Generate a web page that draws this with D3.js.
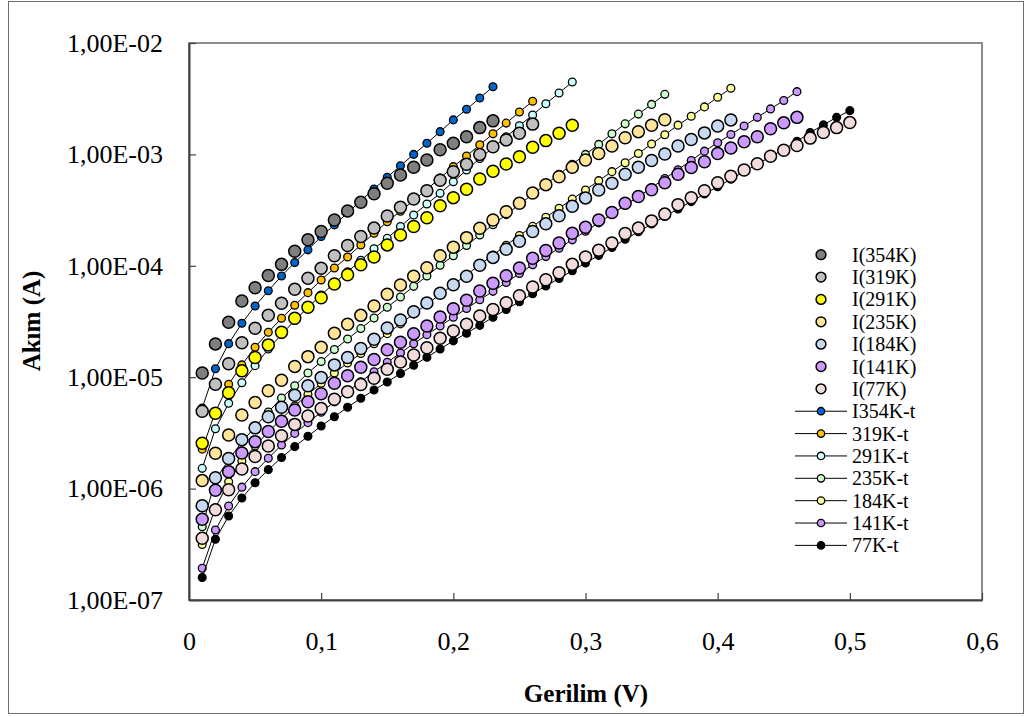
<!DOCTYPE html>
<html><head><meta charset="utf-8">
<script src="https://cdn.jsdelivr.net/npm/d3@7"></script>
<style>body{margin:0;background:#fff}svg{display:block}</style>
</head><body><svg id="chart" width="1027" height="717"></svg>
<script>
// ---- data ----
const voltage = [0.01,0.02,0.03,0.04,0.05,0.06,0.07,0.08,0.09,0.10,0.11,0.12,0.13,0.14,0.15,0.16,0.17,0.18,0.19,0.20,0.21,0.22,0.23,0.24,0.25,0.26,0.27,0.28,0.29,0.30,0.31,0.32,0.33,0.34,0.35,0.36,0.37,0.38,0.39,0.40,0.41,0.42,0.43,0.44,0.45,0.46,0.47,0.48,0.49,0.50];

const I354 = [1.09e-5,1.99e-5,3.11e-5,4.83e-5,6.36e-5,8.18e-5,1.03e-4,1.35e-4,1.71e-4,2.03e-4,2.58e-4,3.11e-4,3.72e-4,4.44e-4,5.51e-4,6.53e-4,7.66e-4,8.91e-4,1.10e-3,1.26e-3,1.44e-3,1.74e-3,2.00e-3];
const I319 = [4.94e-6,8.64e-6,1.32e-5,2.04e-5,2.75e-5,3.60e-5,4.61e-5,6.15e-5,7.73e-5,9.50e-5,1.23e-4,1.52e-4,1.83e-4,2.18e-4,2.80e-4,3.35e-4,3.98e-4,4.72e-4,5.86e-4,7.00e-4,8.15e-4,1.00e-3,1.17e-3,1.35e-3,1.55e-3,1.87e-3];
const I291 = [2.55e-6,4.74e-6,7.26e-6,1.14e-5,1.50e-5,1.95e-5,2.53e-5,3.38e-5,4.24e-5,5.17e-5,6.87e-5,8.32e-5,1.02e-4,1.20e-4,1.54e-4,1.89e-4,2.25e-4,2.70e-4,3.46e-4,4.09e-4,4.86e-4,6.01e-4,7.05e-4,8.20e-4,9.54e-4,1.16e-3,1.33e-3,1.55e-3,1.83e-3];
const I235 = [1.18e-6,2.08e-6,3.03e-6,4.58e-6,5.93e-6,7.57e-6,9.38e-6,1.25e-5,1.53e-5,1.86e-5,2.48e-5,2.99e-5,3.59e-5,4.36e-5,5.55e-5,6.73e-5,8.05e-5,9.62e-5,1.23e-4,1.47e-4,1.79e-4,2.17e-4,2.58e-4,3.06e-4,3.64e-4,4.50e-4,5.35e-4,6.31e-4,7.66e-4,8.91e-4,1.02e-3,1.19e-3,1.41e-3,1.60e-3,1.83e-3,2.05e-3];
const I184 = [7.02e-7,1.25e-6,1.86e-6,2.75e-6,3.51e-6,4.42e-6,5.38e-6,6.88e-6,8.37e-6,9.94e-6,1.29e-5,1.50e-5,1.81e-5,2.19e-5,2.77e-5,3.26e-5,3.87e-5,4.63e-5,5.66e-5,6.77e-5,8.05e-5,1.01e-4,1.19e-4,1.41e-4,1.66e-4,2.03e-4,2.38e-4,2.81e-4,3.43e-4,4.07e-4,4.79e-4,5.51e-4,6.64e-4,7.66e-4,8.82e-4,1.01e-3,1.19e-3,1.36e-3,1.56e-3,1.80e-3,2.04e-3];
const I141 = [5.31e-7,9.67e-7,1.42e-6,2.09e-6,2.64e-6,3.25e-6,4.02e-6,5.08e-6,6.03e-6,7.11e-6,8.82e-6,1.03e-5,1.23e-5,1.44e-5,1.76e-5,2.06e-5,2.46e-5,2.88e-5,3.47e-5,4.12e-5,4.90e-5,5.94e-5,6.97e-5,8.15e-5,9.56e-5,1.17e-4,1.37e-4,1.60e-4,1.96e-4,2.22e-4,2.58e-4,3.01e-4,3.64e-4,4.19e-4,4.82e-4,5.57e-4,6.64e-4,7.63e-4,8.60e-4,1.02e-3,1.14e-3,1.30e-3,1.44e-3,1.70e-3,1.92e-3,2.15e-3];
const I77 = [3.58e-7,6.47e-7,9.78e-7,1.50e-6,1.94e-6,2.41e-6,2.98e-6,3.77e-6,4.49e-6,5.24e-6,6.35e-6,7.41e-6,8.60e-6,9.78e-6,1.18e-5,1.37e-5,1.58e-5,1.84e-5,2.24e-5,2.60e-5,2.99e-5,3.55e-5,4.05e-5,4.66e-5,5.38e-5,6.45e-5,7.50e-5,8.67e-5,1.03e-4,1.20e-4,1.38e-4,1.60e-4,1.95e-4,2.18e-4,2.53e-4,2.91e-4,3.54e-4,4.08e-4,4.71e-4,5.57e-4,6.36e-4,7.24e-4,8.25e-4,9.62e-4,1.09e-3,1.20e-3,1.40e-3,1.57e-3,1.74e-3,1.93e-3];

const T354 = [5.29e-6,1.19e-5,2.00e-5,3.05e-5,4.36e-5,5.98e-5,8.10e-5,1.07e-4,1.39e-4,1.83e-4,2.33e-4,2.99e-4,3.84e-4,4.89e-4,6.23e-4,7.92e-4,1.00e-3,1.26e-3,1.60e-3,2.04e-3,2.54e-3,3.21e-3,4.05e-3];
const T319 = [2.26e-6,4.90e-6,8.64e-6,1.29e-5,1.86e-5,2.53e-5,3.38e-5,4.42e-5,5.74e-5,7.46e-5,9.56e-5,1.20e-4,1.54e-4,1.96e-4,2.49e-4,3.09e-4,3.87e-4,4.86e-4,6.14e-4,7.76e-4,9.67e-4,1.22e-3,1.53e-3,1.91e-3,2.40e-3,3.00e-3];
const T291 = [1.52e-6,3.45e-6,5.83e-6,8.93e-6,1.27e-5,1.79e-5,2.42e-5,3.23e-5,4.23e-5,5.47e-5,7.01e-5,8.85e-5,1.12e-4,1.42e-4,1.77e-4,2.25e-4,2.86e-4,3.59e-4,4.47e-4,5.68e-4,7.24e-4,9.19e-4,1.15e-3,1.44e-3,1.81e-3,2.26e-3,2.85e-3,3.56e-3,4.47e-3];
const T235 = [4.55e-7,1.20e-6,1.81e-6,2.62e-6,3.58e-6,4.87e-6,6.51e-6,8.39e-6,1.09e-5,1.38e-5,1.77e-5,2.20e-5,2.73e-5,3.40e-5,4.24e-5,5.25e-5,6.54e-5,8.10e-5,1.01e-4,1.23e-4,1.52e-4,1.89e-4,2.34e-4,2.88e-4,3.56e-4,4.39e-4,5.39e-4,6.63e-4,8.15e-4,1.00e-3,1.23e-3,1.53e-3,1.88e-3,2.30e-3,2.81e-3,3.46e-3];
const T184 = [3.15e-7,6.70e-7,1.15e-6,1.77e-6,2.41e-6,3.22e-6,4.22e-6,5.51e-6,7.00e-6,8.82e-6,1.09e-5,1.34e-5,1.63e-5,2.00e-5,2.46e-5,3.01e-5,3.70e-5,4.52e-5,5.54e-5,6.78e-5,8.30e-5,1.02e-4,1.25e-4,1.53e-4,1.87e-4,2.26e-4,2.73e-4,3.29e-4,3.97e-4,4.79e-4,5.81e-4,7.00e-4,8.42e-4,1.02e-3,1.24e-3,1.50e-3,1.83e-3,2.20e-3,2.67e-3,3.26e-3,3.92e-3];
const T141 = [1.93e-7,4.25e-7,6.98e-7,1.03e-6,1.42e-6,1.87e-6,2.46e-6,3.13e-6,3.91e-6,4.85e-6,6.01e-6,7.41e-6,9.11e-6,1.12e-5,1.36e-5,1.65e-5,2.00e-5,2.41e-5,2.88e-5,3.45e-5,4.14e-5,4.95e-5,5.90e-5,7.08e-5,8.53e-5,1.02e-4,1.21e-4,1.44e-4,1.71e-4,2.04e-4,2.43e-4,2.91e-4,3.50e-4,4.17e-4,5.03e-4,6.08e-4,7.29e-4,8.82e-4,1.07e-3,1.27e-3,1.51e-3,1.80e-3,2.15e-3,2.56e-3,3.05e-3,3.66e-3];
const T77 = [1.59e-7,3.51e-7,5.67e-7,8.23e-7,1.13e-6,1.48e-6,1.90e-6,2.38e-6,2.95e-6,3.65e-6,4.42e-6,5.37e-6,6.47e-6,7.67e-6,9.06e-6,1.08e-5,1.28e-5,1.51e-5,1.79e-5,2.12e-5,2.48e-5,2.92e-5,3.45e-5,4.05e-5,4.76e-5,5.62e-5,6.59e-5,7.69e-5,9.04e-5,1.06e-4,1.24e-4,1.46e-4,1.73e-4,2.02e-4,2.37e-4,2.78e-4,3.24e-4,3.77e-4,4.41e-4,5.13e-4,5.99e-4,7.00e-4,8.17e-4,9.54e-4,1.11e-3,1.31e-3,1.57e-3,1.84e-3,2.15e-3,2.47e-3];

const measuredNames = ["I(354K)","I(319K)","I(291K)","I(235K)","I(184K)","I(141K)","I(77K)"];
const measuredData = [I354, I319, I291, I235, I184, I141, I77];
const fitNames = ["I354K-t","319K-t","291K-t","235K-t","184K-t","141K-t","77K-t"];
const fitData = [T354, T319, T291, T235, T184, T141, T77];

const xTicks = [0,0.1,0.2,0.3,0.4,0.5,0.6];
const xTickLabels = ["0","0,1","0,2","0,3","0,4","0,5","0,6"];
const yTicks = [1e-7,1e-6,1e-5,1e-4,1e-3,1e-2];
const yTickLabels = ["1,00E-07","1,00E-06","1,00E-05","1,00E-04","1,00E-03","1,00E-02"];

// ---- styles ----
const measuredColors = ["#7f7f7f","#c0c0c0","#ffff00","#ffe499","#c6d9f1","#cc99ff","#f2dcdb"];
const fitColors = ["#0066cc","#ffc000","#ccffff","#ccffcc","#ffff99","#cc99ff","#000000"];
const FONT = "'Liberation Serif','Times New Roman',serif";

const svg = d3.select("#chart");
const L = 189, R = 982, T = 43, B = 600;
const x = d3.scaleLinear().domain([0, 0.6]).range([L, R]);
const y = d3.scaleLog().domain([1e-7, 1e-2]).range([B, T]);

// outer border
svg.append("rect").attr("x",8.5).attr("y",1.5).attr("width",1015).attr("height",712)
  .attr("fill","#fff").attr("stroke","#6e6e6e").attr("stroke-width",1);

// plot frame
svg.append("rect").attr("x",L).attr("y",T).attr("width",R-L).attr("height",B-T)
  .attr("fill","none").attr("stroke","#8c8c8c").attr("stroke-width",2);

// axes
const yAxis = d3.axisLeft(y).tickValues(yTicks).tickFormat((d,i)=>yTickLabels[i])
  .tickSizeInner(-7).tickSizeOuter(0).tickPadding(26);
const gy = svg.append("g").attr("transform",`translate(${L},0)`).call(yAxis);
const xAxis = d3.axisBottom(x).tickValues(xTicks).tickFormat((d,i)=>xTickLabels[i])
  .tickSizeInner(-7).tickSizeOuter(0).tickPadding(32);
const gx = svg.append("g").attr("transform",`translate(0,${B})`).call(xAxis);
[gx, gy].forEach(g=>{
  g.select(".domain").attr("stroke","#404040").attr("stroke-width",2);
  g.selectAll(".tick line").attr("stroke","#404040").attr("stroke-width",1.2);
  g.selectAll(".tick text").attr("font-family",FONT).attr("font-size",26).attr("fill","#000");
});

// axis titles
svg.append("text").attr("x",586).attr("y",702).attr("text-anchor","middle")
  .attr("font-family",FONT).attr("font-weight","bold").attr("font-size",25).text("Gerilim (V)");
svg.append("text").attr("transform","translate(40,321) rotate(-90)").attr("text-anchor","middle")
  .attr("font-family",FONT).attr("font-weight","bold").attr("font-size",25).text("Akım (A)");

// fit series: lines + small markers
const line = d3.line().x(d=>x(d[0])).y(d=>y(d[1]));
fitData.forEach((vals,k)=>{
  const pts = vals.map((v,i)=>[voltage[i], v]);
  svg.append("path").datum(pts).attr("d",line).attr("fill","none")
    .attr("stroke","#000").attr("stroke-width",1);
  svg.append("g").selectAll("circle").data(pts).join("circle")
    .attr("cx",d=>x(d[0])).attr("cy",d=>y(d[1])).attr("r",3.9)
    .attr("fill",fitColors[k]).attr("stroke","#000").attr("stroke-width",1.3);
});
// measured series: big markers
measuredData.forEach((vals,k)=>{
  const pts = vals.map((v,i)=>[voltage[i], v]);
  svg.append("g").selectAll("circle").data(pts).join("circle")
    .attr("cx",d=>x(d[0])).attr("cy",d=>y(d[1])).attr("r",6)
    .attr("fill",measuredColors[k]).attr("stroke","#000").attr("stroke-width",1.5);
});

// legend
const legY0 = 254.7, legDY = 22.36, legMX = 821, legTX = 852;
const leg = svg.append("g");
measuredNames.forEach((n,k)=>{
  const yy = legY0 + k*legDY;
  leg.append("circle").attr("cx",legMX).attr("cy",yy).attr("r",4.9)
    .attr("fill",measuredColors[k]).attr("stroke","#000").attr("stroke-width",1.5);
  leg.append("text").attr("x",legTX).attr("y",yy).attr("dy","0.35em")
    .attr("font-family",FONT).attr("font-size",20).text(n);
});
fitNames.forEach((n,k)=>{
  const yy = legY0 + (k+7)*legDY;
  leg.append("line").attr("x1",795).attr("x2",847).attr("y1",yy).attr("y2",yy)
    .attr("stroke","#000").attr("stroke-width",1);
  leg.append("circle").attr("cx",legMX).attr("cy",yy).attr("r",3.7)
    .attr("fill",fitColors[k]).attr("stroke","#000").attr("stroke-width",1.3);
  leg.append("text").attr("x",legTX).attr("y",yy).attr("dy","0.35em")
    .attr("font-family",FONT).attr("font-size",20).text(n);
});
</script></body></html>
